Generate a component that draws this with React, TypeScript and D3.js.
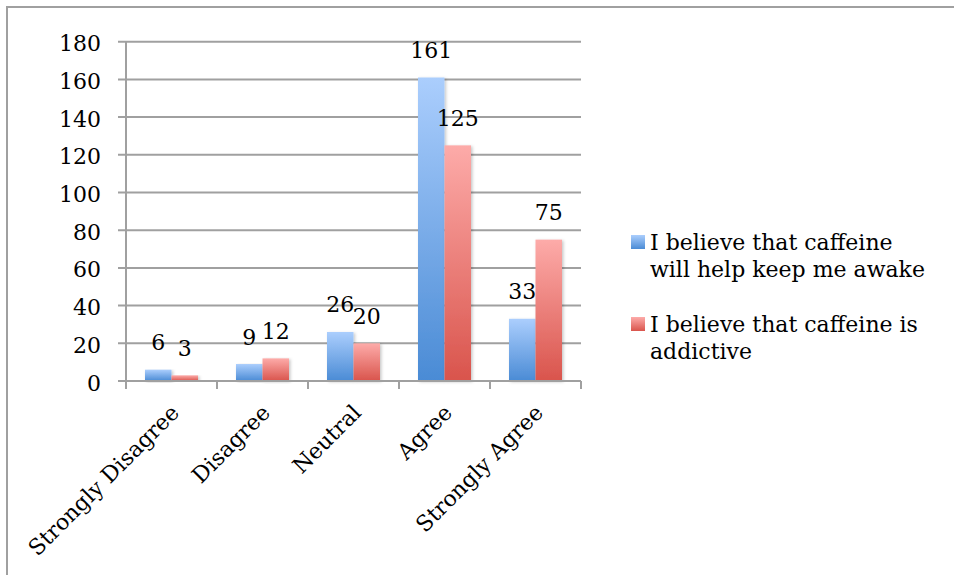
import React from "react";
import * as d3 from "d3";

const categories = ["Strongly Disagree", "Disagree", "Neutral", "Agree", "Strongly Agree"];
const seriesNames = [
  ["I believe that caffeine", "will help keep me awake"],
  ["I believe that caffeine is", "addictive"],
];
const awakeValues = [6, 9, 26, 161, 33];
const addictiveValues = [3, 12, 20, 125, 75];
const yTicks = [0, 20, 40, 60, 80, 100, 120, 140, 160, 180];

const FONT = "'DejaVu Serif', serif";
const GRID = "#a0a0a0";

export default function App() {
  const W = 954;
  const H = 575;
  const x0 = d3.scaleBand<string>().domain(categories).range([126, 581]).paddingInner(0).paddingOuter(0);
  const x1 = d3.scaleBand<number>().domain([0, 1]).range([0, x0.bandwidth()]).paddingInner(0).paddingOuter(0.717);
  const y = d3.scaleLinear().domain([0, 180]).range([381, 41.7]);
  const series = [awakeValues, addictiveValues];
  const grads = ["gBlue", "gRed"];

  return (
    <svg width={W} height={H} style={{ position: "absolute", left: 0, top: 0 }} fontFamily={FONT}>
      <defs>
        <linearGradient id="gBlue" x1="0" y1="0" x2="0" y2="1">
          <stop offset="0" stopColor="#abcefd" />
          <stop offset="1" stopColor="#4a8bd5" />
        </linearGradient>
        <linearGradient id="gRed" x1="0" y1="0" x2="0" y2="1">
          <stop offset="0" stopColor="#fdaba9" />
          <stop offset="1" stopColor="#d9544c" />
        </linearGradient>
        <filter id="shadow" x="-20%" y="-5%" width="150%" height="115%">
          <feDropShadow dx="1.5" dy="1" stdDeviation="1.5" floodColor="#000" floodOpacity="0.22" />
        </filter>
      </defs>
      <rect x={0} y={0} width={W} height={H} fill="#fff" />
      <rect x={7} y={7} width={980} height={620} fill="none" stroke={GRID} strokeWidth={2} />

      {yTicks.map((t) => (
        <g key={t}>
          <line x1={118} x2={581} y1={y(t)} y2={y(t)} stroke={GRID} strokeWidth={2} />
          <text x={101} y={y(t) + 9.5} textAnchor="end" fontSize={22} fill="#000">
            {t}
          </text>
        </g>
      ))}
      <line x1={126} x2={126} y1={y(180)} y2={y(0) + 8} stroke={GRID} strokeWidth={2} />
      {categories.concat(["end"]).map((c, i) => {
        const xx = 126 + i * x0.bandwidth();
        return <line key={c} x1={xx} x2={xx} y1={y(0)} y2={y(0) + 8} stroke={GRID} strokeWidth={2} />;
      })}

      {series.map((vals, si) =>
        vals.map((v, ci) => {
          const bx = (x0(categories[ci]) as number) + (x1(si) as number);
          return (
            <rect
              key={`${si}-${ci}`}
              x={bx}
              y={y(v)}
              width={x1.bandwidth()}
              height={y(0) - y(v)}
              fill={`url(#${grads[si]})`}
              filter="url(#shadow)"
            />
          );
        })
      )}
      <line x1={118} x2={581} y1={y(0)} y2={y(0)} stroke={GRID} strokeWidth={2} />

      {series.map((vals, si) =>
        vals.map((v, ci) => {
          const cx = (x0(categories[ci]) as number) + (x1(si) as number) + x1.bandwidth() / 2;
          return (
            <text key={`l${si}-${ci}`} x={cx} y={y(v) - 19.5} textAnchor="middle" fontSize={22} fill="#000">
              {v}
            </text>
          );
        })
      )}

      {categories.map((c) => {
        const cx = (x0(c) as number) + x0.bandwidth() / 2 + 9;
        const cy = 414;
        return (
          <text
            key={c}
            transform={`translate(${cx},${cy}) rotate(-45)`}
            textAnchor="end"
            fontSize={22}
            fill="#000"
          >
            {c}
          </text>
        );
      })}

      {seriesNames.map((lines, si) => {
        const top = 250 + si * 82;
        return (
          <g key={si}>
            <rect x={631} y={top - 15} width={14} height={14} fill={`url(#${grads[si]})`} />
            {lines.map((ln, li) => (
              <text key={li} x={650} y={top + li * 27} fontSize={22} fill="#000">
                {ln}
              </text>
            ))}
          </g>
        );
      })}
    </svg>
  );
}
